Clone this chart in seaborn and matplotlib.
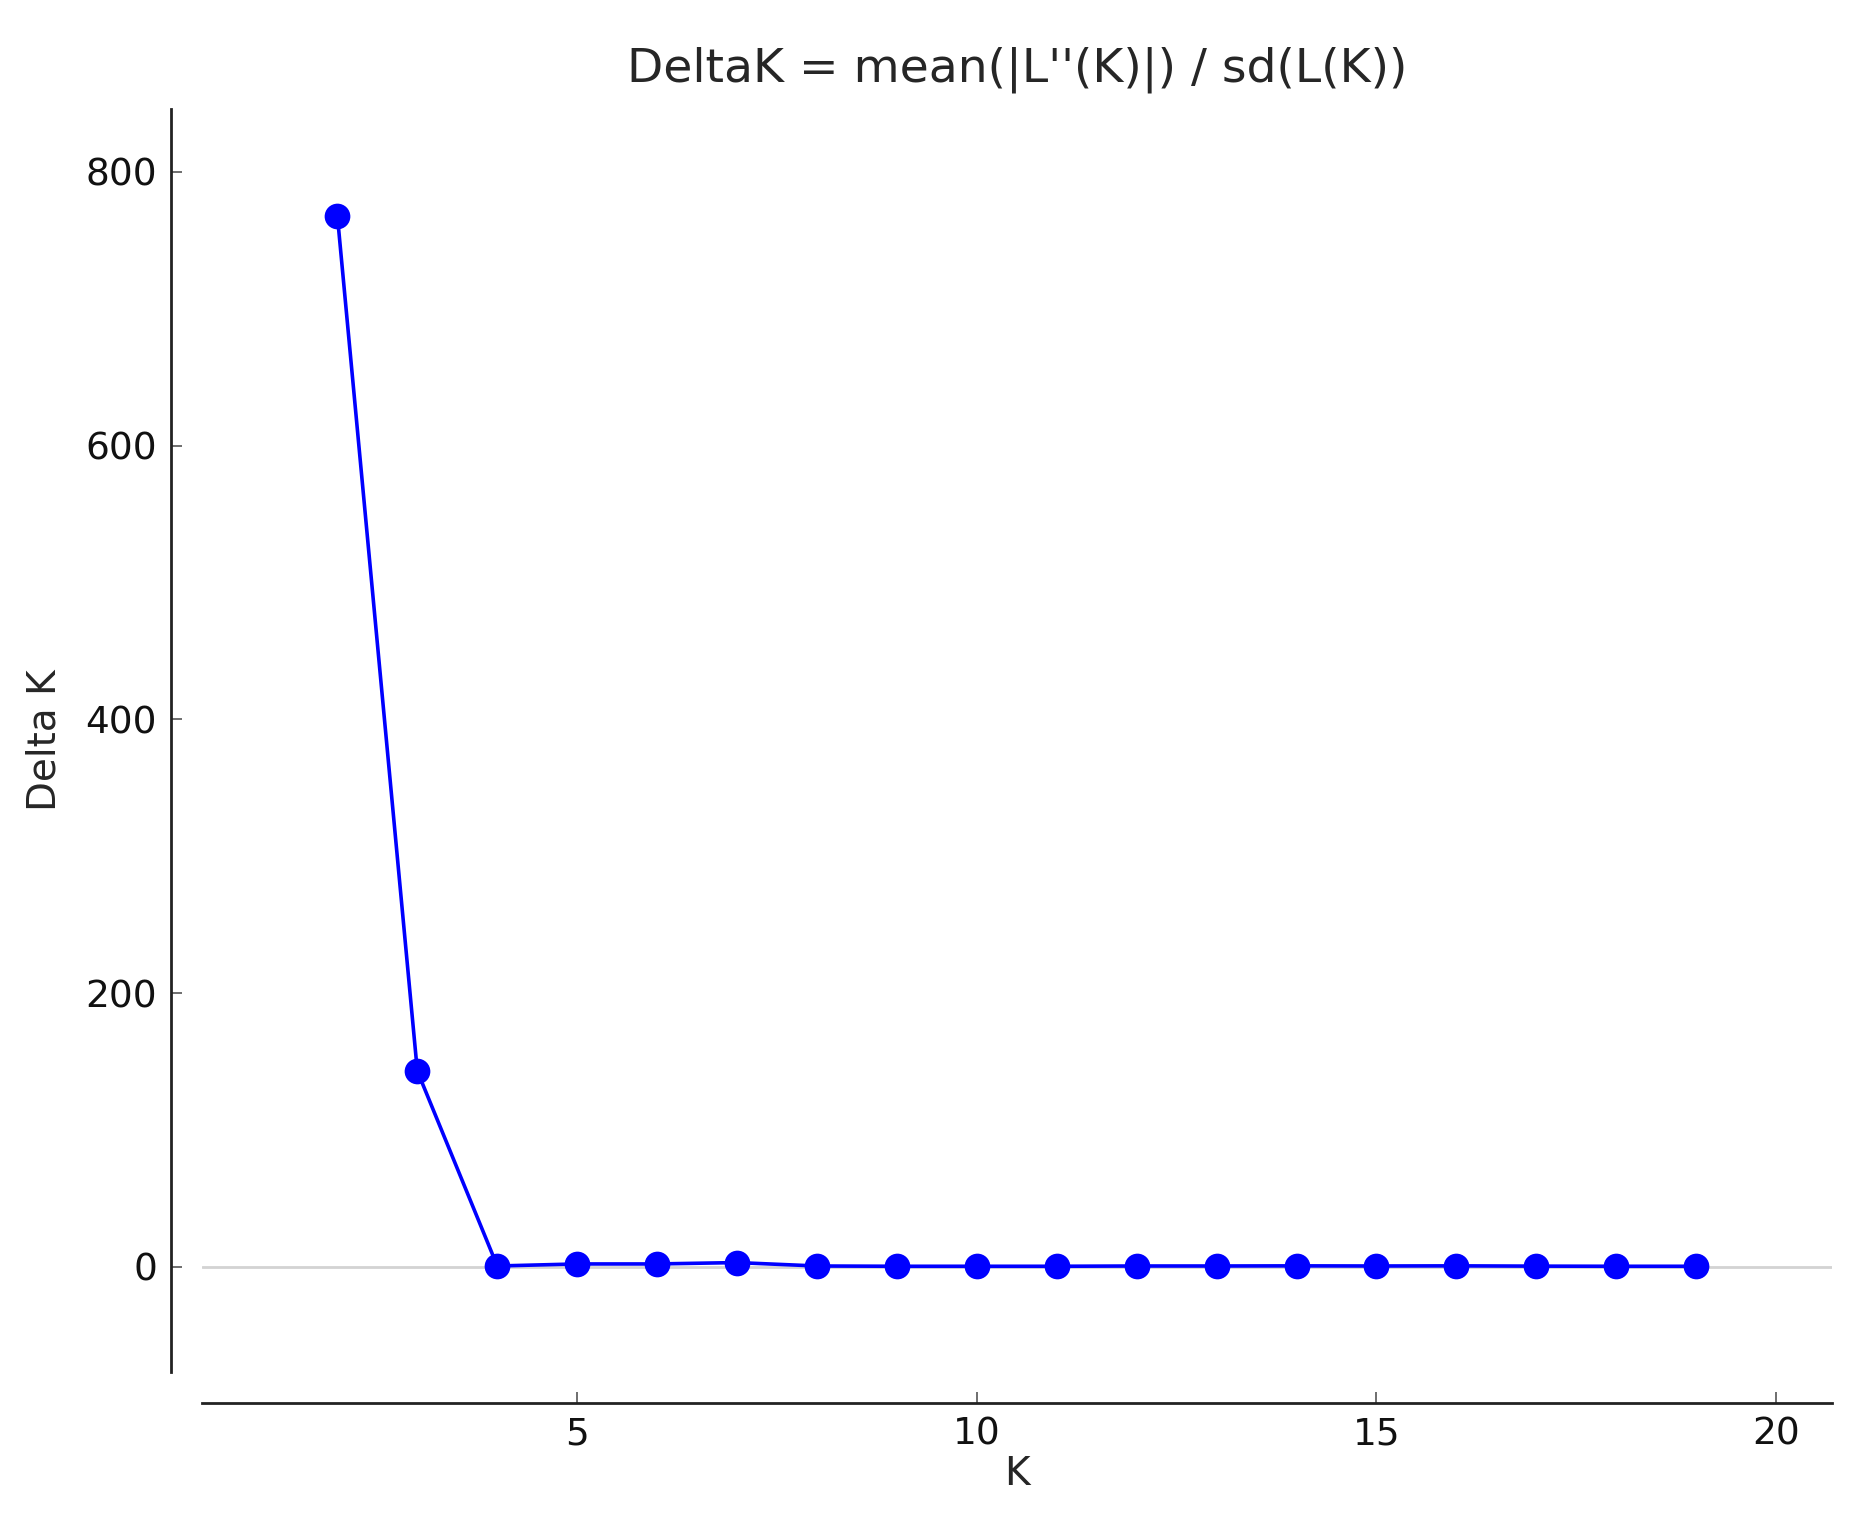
import matplotlib
matplotlib.use("Agg")
import matplotlib.pyplot as plt
import seaborn as sns
import pandas as pd

# Delta K values
k_values = [2, 3, 4, 5, 6, 7, 8, 9, 10, 11, 12, 13, 14, 15, 16, 17, 18, 19]
delta_k = [768, 143, 0.5, 2, 2, 3, 0.5, 0.3, 0.3, 0.3, 0.5, 0.5, 0.6, 0.5, 0.6, 0.4, 0.3, 0.3]
x_ticks = [5, 10, 15, 20]
y_ticks = [0, 200, 400, 600, 800]

sns.set_style("white")
plt.rcParams['font.family'] = ['DejaVu Sans']

df = pd.DataFrame({'K': k_values, 'DeltaK': delta_k})

fig = plt.figure(figsize=(9.295, 7.625), dpi=200)
ax = fig.add_axes([0.1084, 0.1003, 0.8771, 0.8282])

ax.axhline(0, color='lightgray', lw=1.0, zorder=1)
sns.lineplot(data=df, x='K', y='DeltaK', ax=ax, color='blue', lw=1.3,
             marker='o', markersize=8.5, markeredgecolor='blue', zorder=3)

ax.set_xlim(0.3, 20.7)
ax.set_ylim(-77, 846)
ax.set_xticks(x_ticks)
ax.set_yticks(y_ticks)

for side in ['top', 'right']:
    ax.spines[side].set_visible(False)
for side in ['left', 'bottom']:
    ax.spines[side].set_position(('outward', 11))
    ax.spines[side].set_color('#222222')
    ax.spines[side].set_linewidth(1.0)

ax.tick_params(axis='both', direction='in', length=4, width=0.6, color='#555555',
               labelsize=13.5, labelcolor='#111111', pad=5,
               bottom=True, left=True)

ax.set_xlabel('K', fontsize=14, labelpad=1)
ax.set_ylabel('Delta K', fontsize=14, labelpad=8)
ax.set_title("DeltaK = mean(|L''(K)|) / sd(L(K))", fontsize=17, pad=10)

fig.savefig('out.png', dpi=200)
